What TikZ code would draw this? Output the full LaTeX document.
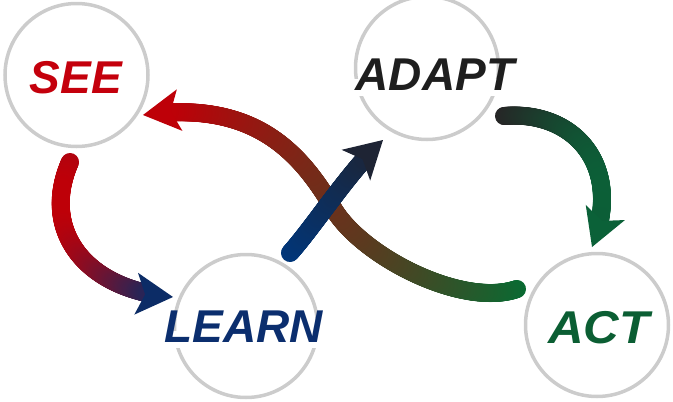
\documentclass[tikz,border=0pt]{standalone}
\usepackage{fontspec}
\setmainfont{Liberation Sans}
\usetikzlibrary{decorations.markings}
\definecolor{seered}{HTML}{C4000C}
\definecolor{bandred}{HTML}{BE0008}
\definecolor{learnblue}{HTML}{0B2E6E}
\definecolor{bandnavy}{HTML}{0C2C66}
\definecolor{bandblue}{HTML}{00367A}
\definecolor{banddark}{HTML}{1E2434}
\definecolor{adaptdark}{HTML}{1E1E1E}
\definecolor{banddarktwo}{HTML}{262626}
\definecolor{actgreen}{HTML}{0B5E33}
\definecolor{bandgreen}{HTML}{0A6A32}
\definecolor{bandgreentwo}{HTML}{0B6138}
\definecolor{ringgray}{HTML}{CCCCCC}
\tikzset{
  ring/.style={circle, draw=ringgray, line width=3.5pt, minimum size=143pt, inner sep=0pt},
  word/.style={font=\fontsize{46}{46}\selectfont\bfseries\itshape, fill=white,
    inner xsep=4pt, inner ysep=4pt, text height=0.75em, text depth=0.15em, anchor=base},
  gradband/.style n args={4}{
    preaction={decorate, decoration={markings,
      mark=between positions 0 and -27pt step 0.6pt with {%
        \pgfpointtransformed{\pgfpointorigin}\pgfgetlastxy{\gbx}{\gby}%
        \pgfmathsetmacro\gbp{max(0,min(100,(\gbx-#3)/(#4-#3)*100))}%
        \fill[#2!\gbp!#1] (0pt,0pt) circle (9pt);}}},
    postaction={decorate, decoration={markings,
      mark=at position -2pt with {\fill[#2] (2pt,0pt) -- (-35pt,21pt) -- (-26pt,0pt) -- (-35pt,-21pt) -- cycle;}}}}
}
\begin{document}
\begin{tikzpicture}[x=1pt,y=-1pt]
\useasboundingbox (0,0) rectangle (673,402);
% rings
\node[ring] (see) at (76.5,75) {};
\node[ring] (adapt) at (427,68) {};
\node[ring] (learn) at (246,326) {};
\node[ring] (act) at (597,325) {};
% words
\node[word, text=seered] (seet) at (76,93) {SEE};
\node[word, text=adaptdark] (adaptt) at (435,90) {ADAPT};
\node[word, text=learnblue] (learnt) at (244,342) {LEARN};
\node[word, text=actgreen, xscale=1.07] (actt) at (599,343) {ACT};
% connector end points
\coordinate (a1s) at (70,162);  \coordinate (a1e) at (173,297);
\coordinate (a2s) at (290,253); \coordinate (a2e) at (383,140);
\coordinate (a3s) at (517,289); \coordinate (a3m) at (333,208); \coordinate (a3e) at (143,115);
\coordinate (a4s) at (504,116); \coordinate (a4e) at (592,247);
% ACT -> SEE long curve
\path[gradband={bandgreen}{bandred}{517}{165}]
  (a3s) .. controls (462,308) and (361,256) .. (a3m) .. controls (298,148) and (250,100) .. (a3e);
% SEE -> LEARN
\path[gradband={bandred}{bandnavy}{62}{165}]
  (a1s) .. controls (40,230) and (85,290) .. (a1e);
% ADAPT -> ACT
\path[gradband={banddarktwo}{bandgreentwo}{505}{605}]
  (a4s) .. controls (575,110) and (624,167) .. (a4e);
% LEARN -> ADAPT
\path[gradband={bandblue}{banddark}{290}{380}]
  (a2s) .. controls (315,225) and (350,170) .. (a2e);
\end{tikzpicture}
\end{document}
